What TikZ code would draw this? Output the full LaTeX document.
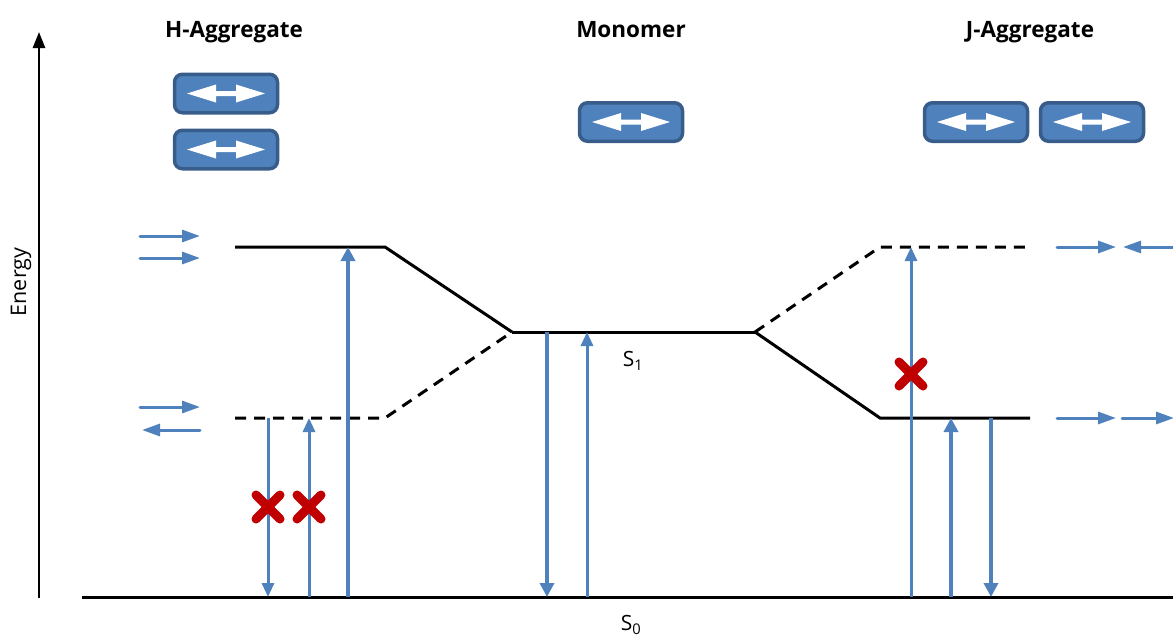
\documentclass[tikz,border=0pt]{standalone}
\usepackage{fontspec}
\setmainfont{Open Sans}
\usetikzlibrary{arrows.meta}

\definecolor{blu}{HTML}{4F81BD}
\definecolor{bluedge}{HTML}{385D8A}
\definecolor{xred}{HTML}{C00000}

\tikzset{
  level/.style={line width=3pt, draw=black, line join=miter},
  dlevel/.style={level, dash pattern=on 11pt off 8pt},
  thintr/.style={draw=blu, line width=3pt, -{Triangle[length=14pt,width=12pt]}},
  thicktr/.style={draw=blu, line width=4.5pt, -{Triangle[length=14pt,width=14pt]}},
  dipole/.style={draw=blu, line width=3pt, line cap=round, -{Triangle[length=18pt,width=12pt]}},
  mol/.style={draw=bluedge, fill=blu, line width=3.5pt, rounded corners=8pt,
              minimum width=103pt, minimum height=38.5pt, inner sep=0pt},
  title/.style={font=\bfseries\fontsize{22.5}{26}\selectfont, anchor=base},
  lbl/.style={font=\fontsize{21}{24}\selectfont},
  axislbl/.style={font=\fontsize{21.5}{24}\selectfont, rotate=90},
  forbid/.style={draw=xred, line width=9pt, line cap=round},
  dip/.pic={
    \fill[white] (-39,0) -- (-10,-9) -- (-10,-2.5) -- (10,-2.5) -- (10,-9) -- (39,0)
                 -- (10,9) -- (10,2.5) -- (-10,2.5) -- (-10,9) -- cycle;
  },
  nogo/.pic={
    \draw[forbid] (-12,-12) -- (12,12);
    \draw[forbid] (-12,12) -- (12,-12);
  },
}

\begin{document}
\begin{tikzpicture}[x=1pt, y=-1pt]
\useasboundingbox (0,0) rectangle (1173,637);

% energy axis
\coordinate (axbot) at (39,598);
\coordinate (axtop) at (39,32);
\draw[line width=2.6pt, -{Triangle[length=16pt,width=12pt]}] (axbot) -- (axtop);
\node[axislbl] (energy) at (21,282) {Energy};

% column titles
\node[title] (thA) at (234,37) {H-Aggregate};
\node[title] (tmo) at (631,37) {Monomer};
\node[title] (tjA) at (1030,37) {J-Aggregate};

% transition dipoles as blocks
\node[mol] (hA) at (226,93.5) {};
\node[mol] (hB) at (226,149.5) {};
\node[mol] (mo) at (631,122) {};
\node[mol] (jA) at (976,122) {};
\node[mol] (jB) at (1092,122) {};
\foreach \b in {hA,hB,mo,jA,jB} \pic at (\b) {dip};

% energy levels
\coordinate (hU0) at (235,247);  \coordinate (hU1) at (385,247);
\coordinate (hL0) at (235,418);  \coordinate (hL1) at (385,418);
\coordinate (m0)  at (512,332);  \coordinate (m1)  at (755,332);
\coordinate (jU0) at (880,247);  \coordinate (jU1) at (1030,247);
\coordinate (jL0) at (880,418);  \coordinate (jL1) at (1030,418);
\coordinate (g0)  at (82,597);   \coordinate (g1)  at (1173,597);

\draw[level]  (hU0) -- (hU1) -- (m0);
\draw[dlevel] (hL0) -- (hL1) -- (m0);
\draw[level]  (m0) -- (m1);
\draw[dlevel] (m1) -- (jU0) -- (jU1);
\draw[level]  (m1) -- (jL0) -- (jL1);
\draw[level]  (g0) -- (g1);

\node[lbl] (s1) at (633,361) {S\textsubscript{1}};
\node[lbl] (s0) at (631,625) {S\textsubscript{0}};

% x positions of the transitions
\coordinate (xa) at (268,0);
\coordinate (xb) at (309,0);
\coordinate (xc) at (348,0);
\coordinate (xd) at (547,0);
\coordinate (xe) at (587,0);
\coordinate (xf) at (911,0);
\coordinate (xg) at (951,0);
\coordinate (xh) at (991,0);

% H-aggregate transitions
\draw[thintr]  (xa |- hL0) -- (xa |- g0);
\draw[thintr]  (xb |- g0) -- (xb |- hL0);
\draw[thicktr] (xc |- g0) -- (xc |- hU0);
% monomer transitions
\draw[thicktr] (xd |- m0) -- (xd |- g0);
\draw[thintr]  (xe |- g0) -- (xe |- m0);
% J-aggregate transitions
\draw[thintr]  (xf |- g0) -- (xf |- jU0);
\draw[thicktr] (xg |- g0) -- (xg |- jL0);
\draw[thicktr] (xh |- jL0) -- (xh |- g0);

% forbidden transitions
\coordinate (xx1) at (268,507);
\coordinate (xx2) at (309,507);
\coordinate (xx3) at (911,374);
\foreach \c in {xx1,xx2,xx3} \pic at (\c) {nogo};

% dipole orientation arrows, H-aggregate
\coordinate (ha1) at (140,236); \coordinate (ha2) at (200,236);
\coordinate (hb1) at (140,258); \coordinate (hb2) at (200,258);
\coordinate (hc1) at (140,407); \coordinate (hc2) at (200,407);
\coordinate (hd1) at (200,430); \coordinate (hd2) at (142,430);
\draw[dipole] (ha1) -- (ha2);
\draw[dipole] (hb1) -- (hb2);
\draw[dipole] (hc1) -- (hc2);
\draw[dipole] (hd1) -- (hd2);

% dipole orientation arrows, J-aggregate
\coordinate (ja1) at (1057,247); \coordinate (ja2) at (1116,247);
\coordinate (jb1) at (1175,247); \coordinate (jb2) at (1123,247);
\coordinate (jc1) at (1057,418); \coordinate (jc2) at (1116,418);
\coordinate (jd1) at (1122,418); \coordinate (jd2) at (1174,418);
\draw[dipole] (ja1) -- (ja2);
\draw[dipole] (jb1) -- (jb2);
\draw[dipole] (jc1) -- (jc2);
\draw[dipole] (jd1) -- (jd2);
\end{tikzpicture}
\end{document}
